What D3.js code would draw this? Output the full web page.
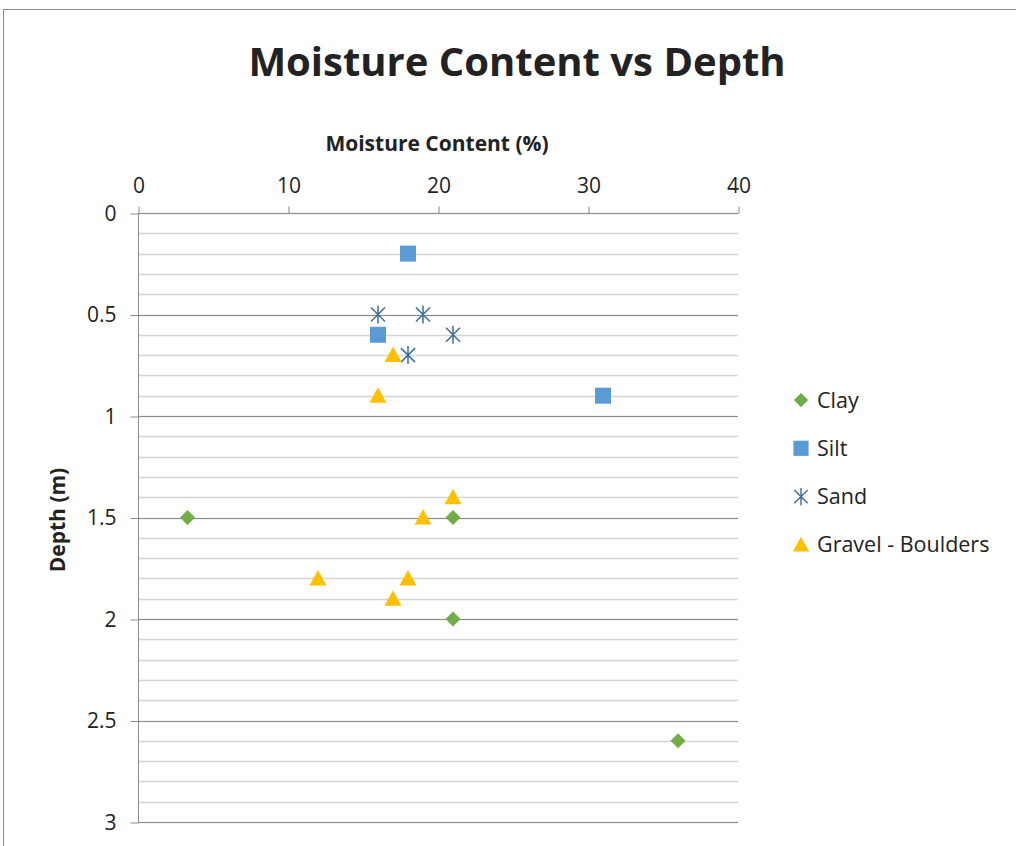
<!DOCTYPE html>
<html>
<head>
<meta charset="utf-8">
<script src="https://cdn.jsdelivr.net/npm/d3@7"></script>
<style>
  body { margin: 0; background: #fff; }
  text { font-family: "Open Sans", "Liberation Sans", sans-serif; fill: #222; }
</style>
</head>
<body>
<div id="chart"></div>
<script>
// Series data: [moisture %, depth m]
const clay = [[3.3, 1.5], [21, 1.5], [21, 2.0], [36, 2.6]];
const silt = [[18, 0.2], [16, 0.6], [31, 0.9]];
const sand = [[16, 0.5], [19, 0.5], [21, 0.6], [18, 0.7]];
const gravel = [[17, 0.7], [16, 0.9], [21, 1.4], [19, 1.5], [12, 1.8], [18, 1.8], [17, 1.9]];

const seriesNames = ["Clay", "Silt", "Sand", "Gravel - Boulders"];
const xTicks = [0, 10, 20, 30, 40];
const yTicks = [0, 0.5, 1, 1.5, 2, 2.5, 3];
const yMinor = d3.range(0, 3.01, 0.1);

const W = 1016, H = 846;
const svg = d3.select("#chart").append("svg")
    .attr("width", W)
    .attr("height", H);

// chart border (only top/left visible)
svg.append("rect")
    .attr("x", 3.5).attr("y", 9.5)
    .attr("width", W + 10).attr("height", H + 10)
    .attr("fill", "none").attr("stroke", "#8c8c8c");

const x = d3.scaleLinear().domain([0, 40]).range([138, 738]);
const y = d3.scaleLinear().domain([0, 3]).range([213, 822]);

// minor gridlines
svg.append("g")
  .selectAll("line")
  .data(yMinor)
  .join("line")
    .attr("x1", x(0)).attr("x2", x(40))
    .attr("y1", d => Math.round(y(d)) + 0.5)
    .attr("y2", d => Math.round(y(d)) + 0.5)
    .attr("stroke", "#d4d4d4").attr("stroke-width", 1.5);

// major gridlines
svg.append("g")
  .selectAll("line")
  .data(yTicks)
  .join("line")
    .attr("x1", x(0)).attr("x2", x(40))
    .attr("y1", d => Math.round(y(d)) + 0.5)
    .attr("y2", d => Math.round(y(d)) + 0.5)
    .attr("stroke", "#8a8a8a").attr("stroke-width", 1.2);

// top x axis
const xAxis = svg.append("g")
    .attr("transform", `translate(0.5,${Math.round(y(0)) + 0.5})`)
    .call(d3.axisTop(x).tickValues(xTicks).tickSize(7).tickPadding(14).tickFormat(d3.format("d")));
xAxis.select(".domain").attr("stroke", "#8a8a8a").attr("d", `M${x(0)},0H${x(40)}`);
xAxis.selectAll(".tick line").attr("stroke", "#8a8a8a");
xAxis.selectAll(".tick text").attr("font-size", 21).attr("fill", "#222")
    .style("font-family", "'Open Sans', sans-serif");

// left y axis
const yAxis = svg.append("g")
    .attr("transform", `translate(${x(0) + 0.5},0.5)`)
    .call(d3.axisLeft(y).tickValues(yTicks).tickSize(8).tickPadding(14).tickFormat(d => d));
yAxis.select(".domain").attr("stroke", "#8a8a8a").attr("d", `M0,${y(0)}V${y(3)}`);
yAxis.selectAll(".tick line").attr("stroke", "#8a8a8a");
yAxis.selectAll(".tick text").attr("font-size", 21).attr("fill", "#222")
    .style("font-family", "'Open Sans', sans-serif");

// titles
svg.append("text")
    .attr("x", 517).attr("y", 76)
    .attr("text-anchor", "middle")
    .attr("font-size", 40).attr("font-weight", "bold")
    .attr("fill", "#000")
    .text("Moisture Content vs Depth");

svg.append("text")
    .attr("x", 437).attr("y", 151)
    .attr("text-anchor", "middle")
    .attr("font-size", 21).attr("font-weight", "bold")
    .text("Moisture Content (%)");

svg.append("text")
    .attr("transform", `translate(65,520) rotate(-90)`)
    .attr("text-anchor", "middle")
    .attr("font-size", 21).attr("font-weight", "bold")
    .text("Depth (m)");

// markers
const colors = { "Clay": "#70AD47", "Silt": "#5B9BD5", "Sand": "#3F6E9C", "Gravel - Boulders": "#FFC000" };

function drawMarker(g, name) {
  if (name === "Clay") {
    g.append("path").attr("d", "M0,-7.5L7.5,0L0,7.5L-7.5,0Z").attr("fill", colors[name]);
  } else if (name === "Silt") {
    g.append("rect").attr("x", -8).attr("y", -8).attr("width", 16).attr("height", 16)
      .attr("fill", colors[name]);
  } else if (name === "Sand") {
    g.append("path").attr("d", "M-7,-7L7,7M-7,7L7,-7M0,-9V9")
      .attr("stroke", colors[name]).attr("stroke-width", 1.5).attr("fill", "none");
  } else {
    g.append("path").attr("d", "M0,-8.5L8.5,7L-8.5,7Z").attr("fill", colors[name]);
  }
}

const seriesData = [clay, silt, sand, gravel];
seriesData.forEach((data, i) => {
  const name = seriesNames[i];
  svg.append("g")
    .selectAll("g")
    .data(data)
    .join("g")
      .attr("transform", d => `translate(${x(d[0])},${y(d[1])})`)
      .each(function() { drawMarker(d3.select(this), name); });
});

// legend
const legend = svg.append("g")
  .selectAll("g")
  .data(seriesNames)
  .join("g")
    .attr("transform", (d, i) => `translate(801,${400 + i * 48.3})`);
legend.each(function(d) {
  const g = d3.select(this);
  const m = g.append("g").attr("transform", "scale(0.95)");
  drawMarker(m, d);
  g.append("text").attr("x", 16).attr("y", 7.5)
    .attr("font-size", 21.5).text(d);
});
</script>
</body>
</html>
